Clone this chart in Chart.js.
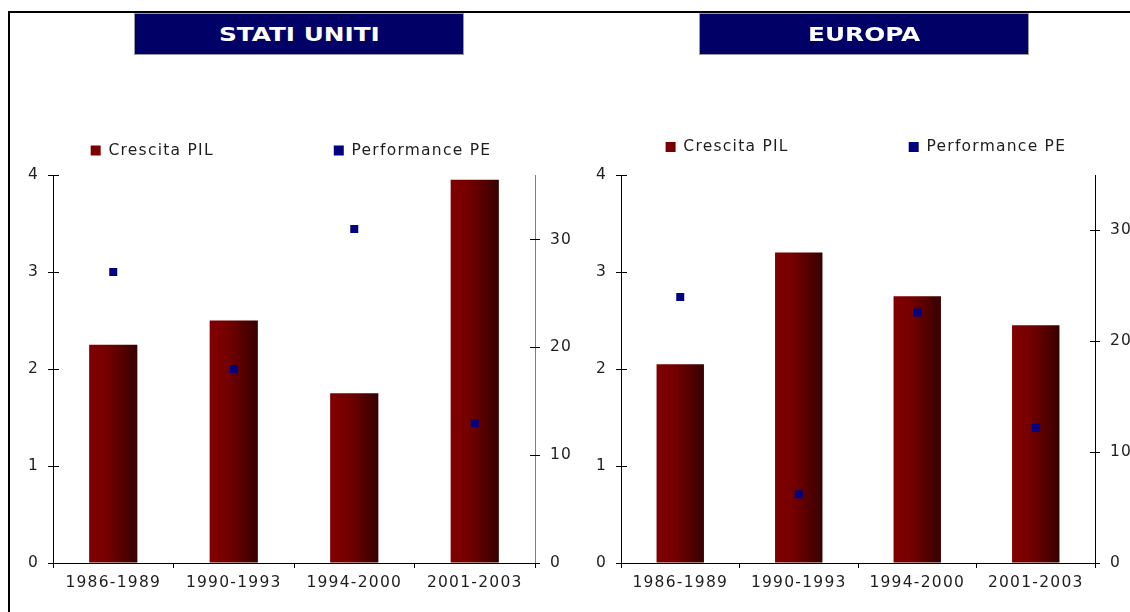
<!DOCTYPE html>
<html>
<head>
<meta charset="utf-8">
<script src="https://cdn.jsdelivr.net/npm/chart.js@4.4.1/dist/chart.umd.min.js"></script>
<style>
  html, body { margin: 0; padding: 0; background: #fff; }
  body { width: 1130px; height: 612px; overflow: hidden; position: relative; font-family: "DejaVu Sans", sans-serif; }
  #frame { position: absolute; left: 8px; top: 11px; width: 1200px; height: 700px; border-top: 2px solid #000; border-left: 2px solid #000; }
  .title { position: absolute; top: 13px; width: 328px; height: 40px; background: #000066; border: 1px solid #9a9a9a;
           color: #fff; font-weight: bold; font-size: 19.5px; display: flex; align-items: center; justify-content: center; }
  .title span { display: inline-block; transform: scaleX(1.27); }
  canvas { position: absolute; top: 0; }
</style>
</head>
<body>
<div id="frame"></div>
<canvas id="us" width="578" height="612" style="left:0px"></canvas>
<canvas id="eu" width="565" height="612" style="left:565px"></canvas>
<div class="title" style="left:134px"><span>STATI UNITI</span></div>
<div class="title" style="left:699px"><span>EUROPA</span></div>
<script>
// ---- data ----
const categories = ['1986-1989', '1990-1993', '1994-2000', '2001-2003'];
const seriesNames = ['Crescita PIL', 'Performance PE'];
const usGdp = [2.25, 2.5, 1.75, 3.95];
const usPe  = [27, 18, 31, 13];
const euGdp = [2.05, 3.2, 2.75, 2.45];
const euPe  = [24, 6.2, 22.6, 12.2];
const gdpAxisMax = 4;
const usPeAxisMax = 36;
const euPeAxisMax = 35;

const FONT = "'DejaVu Sans', sans-serif";
const TXT = '#1e1e1e';
const LS = '1.25px';

const spacingPlugin = {
  id: 'spacing',
  beforeUpdate(chart) { chart.ctx.letterSpacing = LS; },
  beforeLayout(chart) { chart.ctx.letterSpacing = LS; },
  beforeDraw(chart) { chart.ctx.letterSpacing = LS; }
};

// Excel-style "cross" tick marks: draw the inner half of each y tick
const crossTicks = {
  id: 'crossTicks',
  afterDraw(chart) {
    const ctx = chart.ctx, ca = chart.chartArea;
    ctx.save();
    ctx.strokeStyle = '#000';
    ctx.lineWidth = 1;
    ['y', 'y1'].forEach(id => {
      const s = chart.scales[id];
      s.ticks.forEach(t => {
        const py = Math.round(s.getPixelForValue(t.value) - 0.5) + 0.5;
        ctx.beginPath();
        if (id === 'y') { ctx.moveTo(Math.round(ca.left), py); ctx.lineTo(Math.round(ca.left) + 6, py); }
        else { ctx.moveTo(Math.round(ca.right) - 5, py); ctx.lineTo(Math.round(ca.right) + 1, py); }
        ctx.stroke();
      });
    });
    ctx.restore();
  }
};

function barGradient(c) {
  const chart = c.chart;
  const x = chart.scales && chart.scales.x;
  if (!x || c.dataIndex === undefined || !chart.chartArea) return '#620000';
  const cx = x.getPixelForValue(c.dataIndex);
  const w = (x.width / categories.length) * 0.4;
  const g = chart.ctx.createLinearGradient(cx - w / 2, 0, cx + w / 2, 0);
  g.addColorStop(0, '#800000');
  g.addColorStop(0.35, '#760000');
  g.addColorStop(1, '#370000');
  return g;
}

function makeChart(id, gdp, pe, peMax, geo) {
  const tickFont = { family: FONT, size: 15.5 };
  return new Chart(document.getElementById(id), {
    type: 'bar',
    data: {
      labels: categories,
      datasets: [
        { label: seriesNames[0], data: gdp, yAxisID: 'y', order: 1,
          backgroundColor: barGradient, borderWidth: 0,
          barPercentage: 0.4, categoryPercentage: 1 },
        { type: 'line', label: seriesNames[1], data: pe, yAxisID: 'y1', order: 0,
          showLine: false, backgroundColor: '#000080', borderColor: '#000080', borderWidth: 0,
          pointStyle: 'rect', pointRadius: 5.66, pointHoverRadius: 5.66,
          pointBackgroundColor: '#000080', pointBorderWidth: 0 }
      ]
    },
    options: {
      responsive: false,
      animation: false,
      events: [],
      layout: { padding: { top: geo.padTop, left: geo.padLeft, right: geo.padRight, bottom: 0 } },
      plugins: {
        tooltip: { enabled: false },
        legend: {
          position: 'top', align: 'center',
          labels: {
            boxWidth: 10, boxHeight: 10, padding: 120, color: TXT,
            font: { family: FONT, size: 15.5 },
            sort: (a, b) => a.datasetIndex - b.datasetIndex
          }
        },
        subtitle: { display: true, text: '', weight: 500, font: { size: 1, lineHeight: 1 },
                    padding: { top: 0, bottom: geo.spacer - 1 } }
      },
      scales: {
        x: {
          grid: { display: true, drawOnChartArea: false, offset: true, tickLength: 5, color: '#000', tickColor: '#000' },
          border: { color: '#000', width: 1 },
          ticks: { color: TXT, font: tickFont, padding: 6, maxRotation: 0, autoSkip: false },
          afterFit: s => { s.height = 49; }
        },
        y: {
          position: 'left', min: 0, max: gdpAxisMax,
          ticks: { stepSize: 1, color: TXT, font: tickFont, padding: 9 },
          grid: { drawOnChartArea: false, tickLength: 5, tickColor: '#000' },
          border: { color: '#000', width: 1 },
          afterFit: s => { s.width = geo.yw; }
        },
        y1: {
          position: 'right', min: 0, max: peMax,
          ticks: { stepSize: 10, includeBounds: false, color: TXT, font: tickFont, padding: 10 },
          grid: { drawOnChartArea: false, tickLength: 5, tickColor: '#000' },
          border: { color: geo.rightBorder, width: 1 },
          afterFit: s => { s.width = geo.y1w; }
        }
      }
    },
    plugins: [spacingPlugin, crossTicks]
  });
}

// chart area: US left 53 / right 535 ; EU left 56 / right 530 (canvas coords)
makeChart('us', usGdp, usPe, usPeAxisMax,
  { padTop: 22.75, spacer: 6.75, padLeft: -33, padRight: -37, yw: 86, y1w: 80, rightBorder: '#808080' });
makeChart('eu', euGdp, euPe, euPeAxisMax,
  { padTop: 19.25, spacer: 10.25, padLeft: -21, padRight: -57.85, yw: 77, y1w: 92.85, rightBorder: '#000' });
</script>
</body>
</html>
